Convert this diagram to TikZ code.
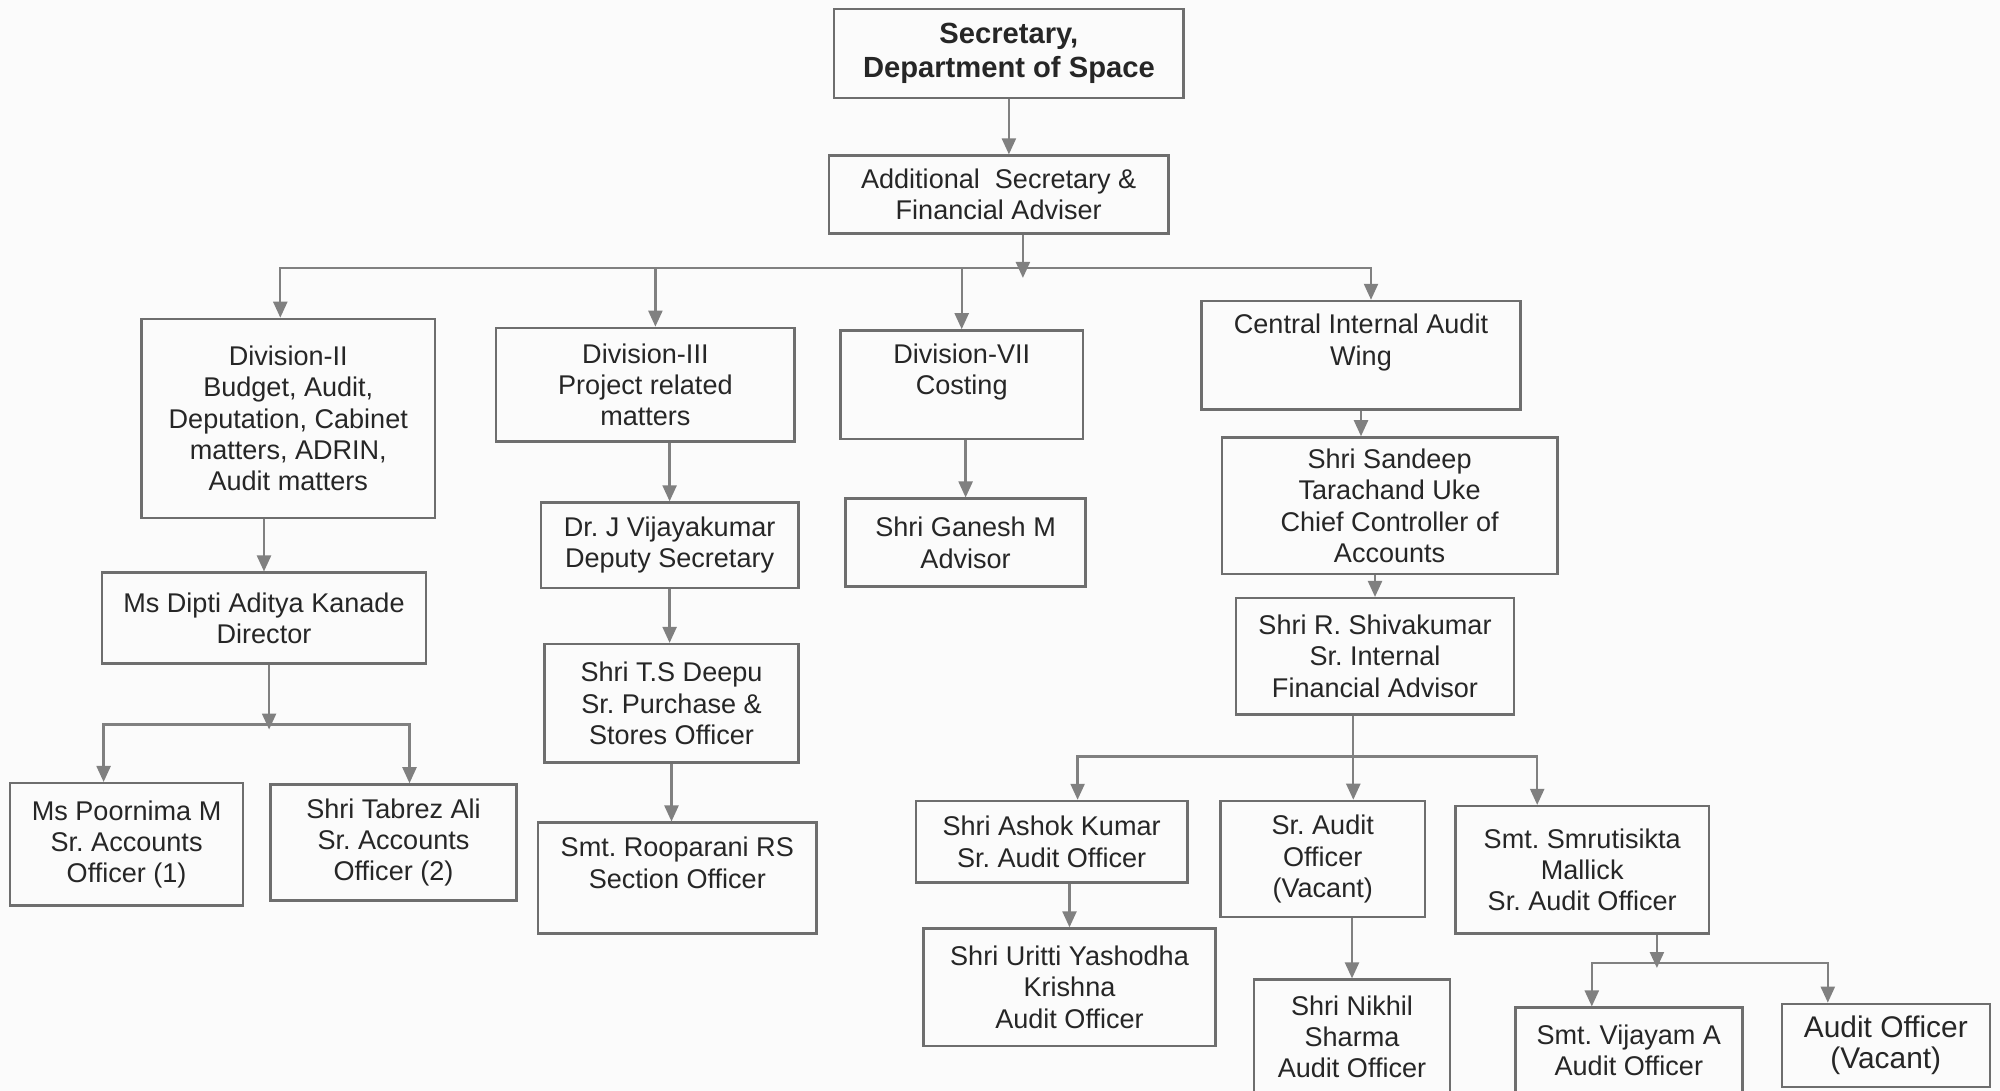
\documentclass[tikz,border=0pt]{standalone}
\usepackage{fontspec}
\setmainfont{Liberation Sans}
\usetikzlibrary{arrows.meta}
\frenchspacing

\definecolor{paper}{HTML}{FBFBFB}
\definecolor{boxgray}{HTML}{6E6E6E}
\definecolor{linegray}{HTML}{808080}
\definecolor{inkgray}{HTML}{262626}

\tikzset{
  post/.style={draw=boxgray, line width=0.7pt, rectangle, align=center, inner sep=0pt,
    text=inkgray, font=\fontsize{7.7}{8.9}\selectfont},
  head/.style={post, font=\fontsize{8.3}{9.8}\selectfont\bfseries},
  link/.style={draw=linegray, line width=0.65pt},
  arr/.style={link, -{Triangle[length=1.6mm,width=1.4mm]}}
}

\begin{document}
\begin{tikzpicture}

\fill[paper] (0,0) rectangle (20,-10.906);
\useasboundingbox (0,0) rectangle (20,-10.906);

\node[head, minimum width=3.495cm, minimum height=0.893cm] (sec) at (10.089,-0.536) {Secretary,\\Department of Space};
\node[post, minimum width=3.393cm, minimum height=0.778cm] (asfa) at (9.987,-1.945) {Additional\ \ Secretary \&\\Financial Adviser};

\node[post, minimum width=2.934cm, minimum height=1.990cm] (div2) at (2.883,-4.184) {Division-II\\Budget, Audit,\\Deputation, Cabinet\\matters, ADRIN,\\Audit matters};
\node[post, minimum width=2.985cm, minimum height=1.135cm] (div3) at (6.454,-3.846) {Division-III\\Project related\\matters};
\node[post, minimum width=2.423cm, minimum height=1.084cm] (div7) at (9.617,-3.846) {Division-VII\\Costing\\\mbox{}};
\node[post, minimum width=3.189cm, minimum height=1.084cm] (ciaw) at (13.610,-3.552) {Central Internal Audit\\Wing\\\mbox{}};

\node[post, minimum width=3.240cm, minimum height=0.906cm] (dipti) at (2.640,-6.180) {Ms Dipti Aditya Kanade\\Director};
\node[post, minimum width=2.328cm, minimum height=1.224cm] (poor) at (1.266,-8.444) {Ms Poornima M\\Sr. Accounts\\Officer (1)};
\node[post, minimum width=2.462cm, minimum height=1.161cm] (tabrez) at (3.935,-8.425) {Shri Tabrez Ali\\Sr. Accounts\\Officer (2)};

\node[post, minimum width=2.577cm, minimum height=0.855cm] (vijk) at (6.696,-5.453) {Dr. J Vijayakumar\\Deputy Secretary};
\node[post, minimum width=2.538cm, minimum height=1.186cm] (deepu) at (6.715,-7.034) {Shri T.S Deepu\\Sr. Purchase \&\\Stores Officer};
\node[post, minimum width=2.781cm, minimum height=1.110cm] (roop) at (6.773,-8.782) {Smt. Rooparani RS\\Section Officer\\\mbox{}};

\node[post, minimum width=2.398cm, minimum height=0.880cm] (ganesh) at (9.656,-5.427) {Shri Ganesh M\\Advisor};

\node[post, minimum width=3.355cm, minimum height=1.365cm] (sandeep) at (13.896,-5.057) {Shri Sandeep\\Tarachand Uke\\Chief Controller of\\Accounts};
\node[post, minimum width=2.781cm, minimum height=1.161cm] (shiva) at (13.750,-6.562) {Shri R. Shivakumar\\Sr. Internal\\Financial Advisor};

\node[post, minimum width=2.717cm, minimum height=0.816cm] (ashok) at (10.516,-8.418) {Shri Ashok Kumar\\Sr. Audit Officer};
\node[post, minimum width=2.041cm, minimum height=1.161cm] (srao) at (13.227,-8.590) {Sr. Audit\\Officer\\(Vacant)};
\node[post, minimum width=2.538cm, minimum height=1.276cm] (smruti) at (15.822,-8.699) {Smt. Smrutisikta\\Mallick\\Sr. Audit Officer};
\node[post, minimum width=2.921cm, minimum height=1.173cm] (uritti) at (10.695,-9.872) {Shri Uritti Yashodha\\Krishna\\Audit Officer};
\node[post, minimum width=1.964cm, minimum height=1.148cm] (nikhil) at (13.520,-10.370) {Shri Nikhil\\Sharma\\Audit Officer};
\node[post, minimum width=2.270cm, minimum height=0.855cm] (vijayam) at (16.288,-10.504) {Smt. Vijayam A\\Audit Officer};
\node[post, minimum width=2.079cm, minimum height=0.829cm, font=\fontsize{8.5}{8.9}\selectfont] (aovac) at (18.858,-10.453) {Audit Officer\\(Vacant)};

\coordinate (fa) at (10.229,-2.679);
\coordinate (fd) at (2.691,-7.245);
\coordinate (fs) at (13.533,-7.564);
\coordinate (fm) at (16.569,-9.630);

\draw[arr] (sec.south) -- (sec.south |- asfa.north);
\draw[arr] (asfa.south -| fa) -- ([yshift=-1mm]fa);
\draw[arr] (fa) -| ([xshift=-0.8mm]div2.north);
\draw[arr] (fa) -| ([xshift=1mm]div3.north);
\draw[arr] (fa) -| (div7.north);
\draw[arr] (fa) -| ([xshift=1mm]ciaw.north);

\draw[arr] (div2.south -| dipti.north) -- (dipti.north);
\draw[arr] (dipti.south -| fd) -- ([yshift=-0.5mm]fd);
\draw[arr] (fd) -| ([xshift=-2.3mm]poor.north);
\draw[arr] (fd) -| ([xshift=1.6mm]tabrez.north);

\draw[arr] (div3.south -| vijk.north) -- (vijk.north);
\draw[arr] (vijk.south) -- (vijk.south |- deepu.north);
\draw[arr] (deepu.south) -- (deepu.south |- roop.north);

\draw[arr] (div7.south -| ganesh.north) -- (ganesh.north);

\draw[arr] (ciaw.south) -- (ciaw.south |- sandeep.north);
\draw[arr] (sandeep.south -| shiva.north) -- (shiva.north);
\draw[link] (shiva.south -| fs) -- (fs);
\draw[arr] (fs) -| ([xshift=2.6mm]ashok.north);
\draw[arr] (fs) -- (srao.north -| fs);
\draw[arr] (fs) -| ([xshift=-4.5mm]smruti.north);
\draw[arr] (ashok.south -| uritti.north) -- (uritti.north);
\draw[arr] (srao.south -| nikhil.north) -- (nikhil.north);
\draw[arr] (smruti.south -| fm) -- ([yshift=-0.5mm]fm);
\draw[arr] (fm) -| ([xshift=-3.7mm]vijayam.north);
\draw[arr] (fm) -| ([xshift=-5.8mm]aovac.north);

\end{tikzpicture}
\end{document}
